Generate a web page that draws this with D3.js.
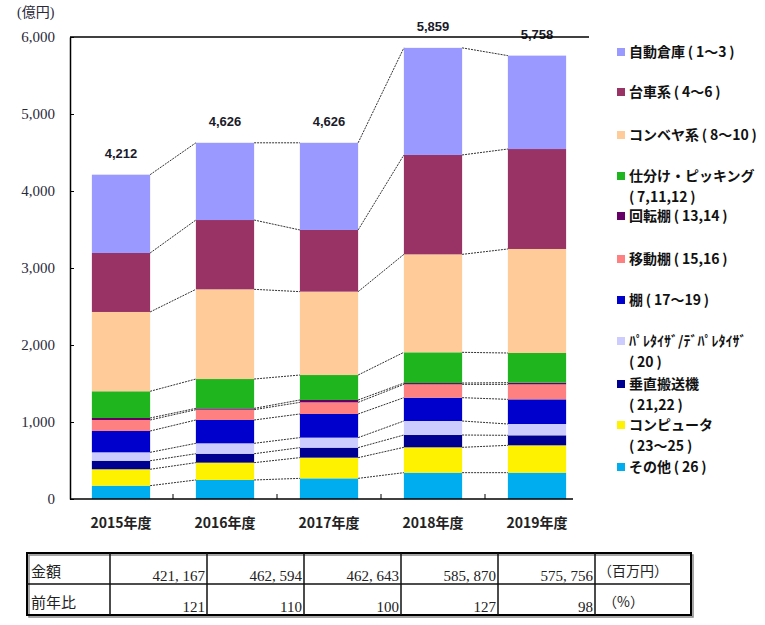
<!DOCTYPE html>
<html><head><meta charset="utf-8">
<script src="https://cdn.jsdelivr.net/npm/d3@7"></script>
<style>
html,body{margin:0;padding:0;background:#fff;}
svg{display:block;}
</style></head>
<body>
<svg id="chart" width="765" height="625"></svg>
<script>
const years = ["2015年度","2016年度","2017年度","2018年度","2019年度"];
const seriesNames = ["その他(26)","コンピュータ(23～25)","垂直搬送機(21,22)","ﾊﾟﾚﾀｲｻﾞ/ﾃﾞﾊﾟﾚﾀｲｻﾞ(20)","棚(17～19)","移動棚(15,16)","回転棚(13,14)","仕分け・ピッキング(7,11,12)","コンベヤ系(8～10)","台車系(4～6)","自動倉庫(1～3)"];
const sonota   = [173, 247, 268, 342, 342];
const computer = [213, 225, 269, 329, 355];
const suichoku = [111, 116, 130, 160, 130];
const paletizer= [109, 135, 130, 182, 147];
const tana     = [277, 303, 307, 303, 320];
const idoudana = [143, 134, 151, 173, 195];
const kaitendana=[26, 17, 31, 17, 22];
const shiwake  = [347, 381, 324, 399, 385];
const conveyor = [1030, 1165, 1083, 1272, 1351];
const daisha   = [766, 900, 801, 1291, 1298];
const jidou    = [1017, 1003, 1132, 1391, 1213];
const totals   = [4212, 4626, 4626, 5859, 5758];
const totalLabels = ["4,212","4,626","4,626","5,859","5,758"];
const yTicks = [0,1000,2000,3000,4000,5000,6000];
const tableAmount = ["421, 167","462, 594","462, 643","585, 870","575, 756"];
const tableRatio = ["121","110","100","127","98"];

const seriesValues = [sonota, computer, suichoku, paletizer, tana, idoudana, kaitendana, shiwake, conveyor, daisha, jidou];
const colors = ["#00ADEF","#FFF200","#000090","#CCCCFF","#0000CC","#FF8080","#660066","#1FB51F","#FFCC99","#993366","#9999FF"];

const legendItems = [
  {s:10, lines:["自動倉庫(1～3)"], y:52},
  {s:9, lines:["台車系(4～6)"], y:92},
  {s:8, lines:["コンベヤ系(8～10)"], y:135},
  {s:7, lines:["仕分け・ピッキング","(7,11,12)"], y:176},
  {s:6, lines:["回転棚(13,14)"], y:216},
  {s:5, lines:["移動棚(15,16)"], y:259},
  {s:4, lines:["棚(17～19)"], y:300},
  {s:3, lines:["ﾊﾟﾚﾀｲｻﾞ/ﾃﾞﾊﾟﾚﾀｲｻﾞ","(20)"], y:341},
  {s:2, lines:["垂直搬送機","(21,22)"], y:384},
  {s:1, lines:["コンピュータ","(23～25)"], y:425},
  {s:0, lines:["その他(26)"], y:467}
];

const svg = d3.select("#chart");
const jp = "'Noto Sans CJK JP','Noto Sans',sans-serif";

const x = d3.scaleBand().domain(years).range([69, 589]).paddingInner(0.44).paddingOuter(0.22);
const y = d3.scaleLinear().domain([0, 6000]).range([499, 37]);

const table = years.map((yr, i) => {
  const o = {year: yr};
  seriesValues.forEach((arr, k) => o["s" + k] = arr[i]);
  return o;
});
const keys = seriesValues.map((_, k) => "s" + k);
const stacked = d3.stack().keys(keys)(table);

const g = svg.append("g");
stacked.forEach((layer, k) => {
  g.selectAll(null).data(layer).enter().append("rect")
    .attr("x", d => x(d.data.year))
    .attr("width", x.bandwidth())
    .attr("y", d => y(d[1]))
    .attr("height", d => y(d[0]) - y(d[1]))
    .attr("fill", colors[k]);
});

stacked.forEach((layer) => {
  for (let i = 0; i < years.length - 1; i++) {
    g.append("line")
      .attr("x1", x(years[i]) + x.bandwidth())
      .attr("x2", x(years[i + 1]))
      .attr("y1", y(layer[i][1]))
      .attr("y2", y(layer[i + 1][1]))
      .attr("stroke", "#333")
      .attr("stroke-width", 1)
      .attr("stroke-dasharray", "2,1");
  }
});

g.selectAll(null).data(years).enter().append("text")
  .attr("x", d => x(d) + x.bandwidth() / 2)
  .attr("y", (d, i) => y(totals[i]) - 17)
  .attr("text-anchor", "middle")
  .attr("font-family", "Arial, 'Liberation Sans', sans-serif")
  .attr("font-size", 13)
  .attr("font-weight", "bold")
  .attr("fill", "#1a1a2a")
  .text((d, i) => totalLabels[i]);

const yAxis = d3.axisLeft(y).tickValues(yTicks).tickSizeInner(-4).tickSizeOuter(0).tickPadding(15)
  .tickFormat(d3.format(","));
const ya = svg.append("g").attr("transform", "translate(70,0)").call(yAxis);
ya.select(".domain").attr("stroke", "#000").attr("stroke-width", 1.5);
ya.selectAll(".tick line").attr("stroke", "#000");
ya.selectAll(".tick text").attr("font-family", "'Liberation Serif','Times New Roman',serif")
  .attr("font-size", 15).attr("fill", "#2a2a3a");

svg.append("line").attr("x1", 70).attr("x2", 589).attr("y1", y(6000)).attr("y2", y(6000))
  .attr("stroke", "#000").attr("stroke-width", 1.5);

svg.append("line").attr("x1", 70).attr("x2", 573).attr("y1", y(0)).attr("y2", y(0))
  .attr("stroke", "#000").attr("stroke-width", 1.5);
years.slice(1).forEach(yr => {
  const bx = x(yr) - x.step() * x.paddingInner() / 2;
  svg.append("line").attr("x1", bx).attr("x2", bx).attr("y1", y(0)).attr("y2", y(0) - 5)
    .attr("stroke", "#000").attr("stroke-width", 1);
});
svg.append("g").selectAll("text").data(years).enter().append("text")
  .attr("x", d => x(d) + x.bandwidth() / 2)
  .attr("y", 528)
  .attr("text-anchor", "middle")
  .attr("font-family", jp)
  .attr("font-size", 14)
  .attr("font-weight", "bold")
  .attr("fill", "#222")
  .text(d => d);

svg.append("text").attr("x", 17).attr("y", 17)
  .attr("font-family", "'Liberation Serif','Noto Sans CJK JP',serif")
  .attr("font-size", 14).attr("fill", "#2a2a3a").text("(億円)");

// legend: widen parentheses slightly with thin spaces, as in the reference
const pad = s => s.replace(/\(/g, "\u2009(\u2009").replace(/\)/g, "\u2009)").replace(/^\u2009/, "");
const lg = svg.append("g");
legendItems.forEach(it => {
  lg.append("rect").attr("x", 617).attr("y", it.y - 4).attr("width", 8).attr("height", 8)
    .attr("fill", colors[it.s]);
  it.lines.forEach((ln, j) => {
    lg.append("text").attr("x", 629).attr("y", it.y + 5 + j * 21)
      .attr("font-family", jp).attr("font-size", 14).attr("font-weight", "bold")
      .attr("fill", "#111").text(pad(ln));
  });
});

const colX = [27, 110, 207, 304, 401, 498, 595, 691];
const rowY = [553, 584, 615];
const tg = svg.append("g");
tg.append("rect").attr("x", colX[0] + 2).attr("y", rowY[0] + 2)
  .attr("width", colX[7] - colX[0]).attr("height", rowY[2] - rowY[0])
  .attr("fill", "none").attr("stroke", "#888").attr("stroke-width", 1.5);
tg.append("rect").attr("x", colX[0]).attr("y", rowY[0])
  .attr("width", colX[7] - colX[0]).attr("height", rowY[2] - rowY[0])
  .attr("fill", "none").attr("stroke", "#000").attr("stroke-width", 2);
colX.slice(1, 7).forEach(cx => {
  tg.append("line").attr("x1", cx).attr("x2", cx).attr("y1", rowY[0]).attr("y2", rowY[2])
    .attr("stroke", "#111").attr("stroke-width", 1.5);
});
tg.append("line").attr("x1", colX[0]).attr("x2", colX[7]).attr("y1", rowY[1]).attr("y2", rowY[1])
  .attr("stroke", "#111").attr("stroke-width", 1.5);

tg.append("text").attr("x", 31).attr("y", 577).attr("font-family", jp).attr("font-size", 15)
  .attr("fill", "#222").text("金額");
tg.append("text").attr("x", 31).attr("y", 608).attr("font-family", jp).attr("font-size", 15)
  .attr("fill", "#222").text("前年比");
const serif = "'Liberation Serif','Times New Roman',serif";
tableAmount.forEach((t, i) => {
  tg.append("text").attr("x", colX[i + 2] - 2).attr("y", 581).attr("text-anchor", "end")
    .attr("font-family", serif).attr("font-size", 15).attr("fill", "#222").text(t);
});
tableRatio.forEach((t, i) => {
  tg.append("text").attr("x", colX[i + 2] - 2).attr("y", 612).attr("text-anchor", "end")
    .attr("font-family", serif).attr("font-size", 15).attr("fill", "#222").text(t);
});
tg.append("text").attr("x", 598).attr("y", 576).attr("font-family", "'Noto Sans CJK JP',serif")
  .attr("font-size", 14).attr("fill", "#222").text("（百万円）");
tg.append("text").attr("x", 603).attr("y", 607).attr("font-family", "'Noto Sans CJK JP',serif")
  .attr("font-size", 14).attr("fill", "#222").text("（%）");
</script>
</body></html>
